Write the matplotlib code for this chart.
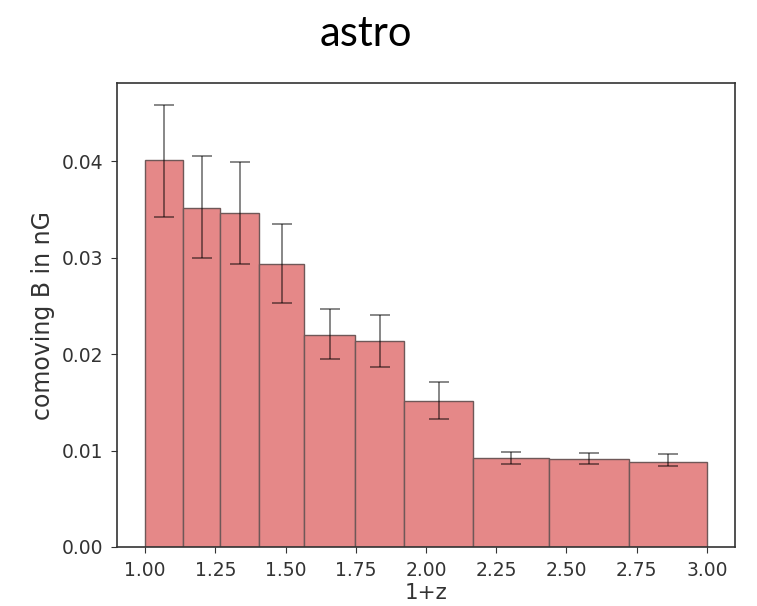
import matplotlib
matplotlib.use("Agg")
import matplotlib.pyplot as plt
import numpy as np

# bin edges in 1+z
bin_edges = [1.00, 1.136, 1.267, 1.406, 1.566, 1.749, 1.921, 2.169, 2.439, 2.724, 3.00]
# comoving B in nG
b_values = [0.0401, 0.03516, 0.03458, 0.02936, 0.0220, 0.02135, 0.01513, 0.00926, 0.00909, 0.00884]
err_upper = [0.0458, 0.0405, 0.0399, 0.0335, 0.0247, 0.0240, 0.0171, 0.00981, 0.00971, 0.00961]
err_lower = [0.0342, 0.0300, 0.02933, 0.02532, 0.0195, 0.01865, 0.01330, 0.00864, 0.00857, 0.00836]
xticks = [1.00, 1.25, 1.50, 1.75, 2.00, 2.25, 2.50, 2.75, 3.00]
yticks = [0.00, 0.01, 0.02, 0.03, 0.04]

edges = np.array(bin_edges)
vals = np.array(b_values)
widths = np.diff(edges)
centers = edges[:-1] + widths / 2
yerr = np.vstack([vals - np.array(err_lower), np.array(err_upper) - vals])

fig = plt.figure(figsize=(7.57, 6.06), dpi=100)
ax = fig.add_axes([117 / 757, 1 - 547 / 606, (735 - 117) / 757, (547 - 83) / 606])

ax.bar(edges[:-1], vals, width=widths, align="edge", color="#E58888",
       edgecolor="#6f5858", linewidth=1.0)
ax.errorbar(centers, vals, yerr=yerr, fmt="none", ecolor="black", alpha=0.55,
            elinewidth=1.2, capsize=7, capthick=1.2)

ax.set_xticks(xticks)
ax.set_xticklabels([f"{t:.2f}" for t in xticks])
ax.set_yticks(yticks)
ax.set_yticklabels([f"{t:.2f}" for t in yticks])
ax.tick_params(labelsize=13.5, colors="#333333", length=4, pad=6)
for s in ax.spines.values():
    s.set_color("#333333")
    s.set_linewidth(1.2)
ax.set_xlabel("1+z", fontsize=15.5, color="#333333", labelpad=2)
ax.set_ylabel("comoving B in nG", fontsize=17, color="#333333", labelpad=5)

fig.text(365.5 / 757, 1 - 46 / 606, "astro", fontsize=30, family=["Lato", "DejaVu Sans"],
         ha="center", va="baseline", color="black")

fig.savefig("out.png", dpi=100)
